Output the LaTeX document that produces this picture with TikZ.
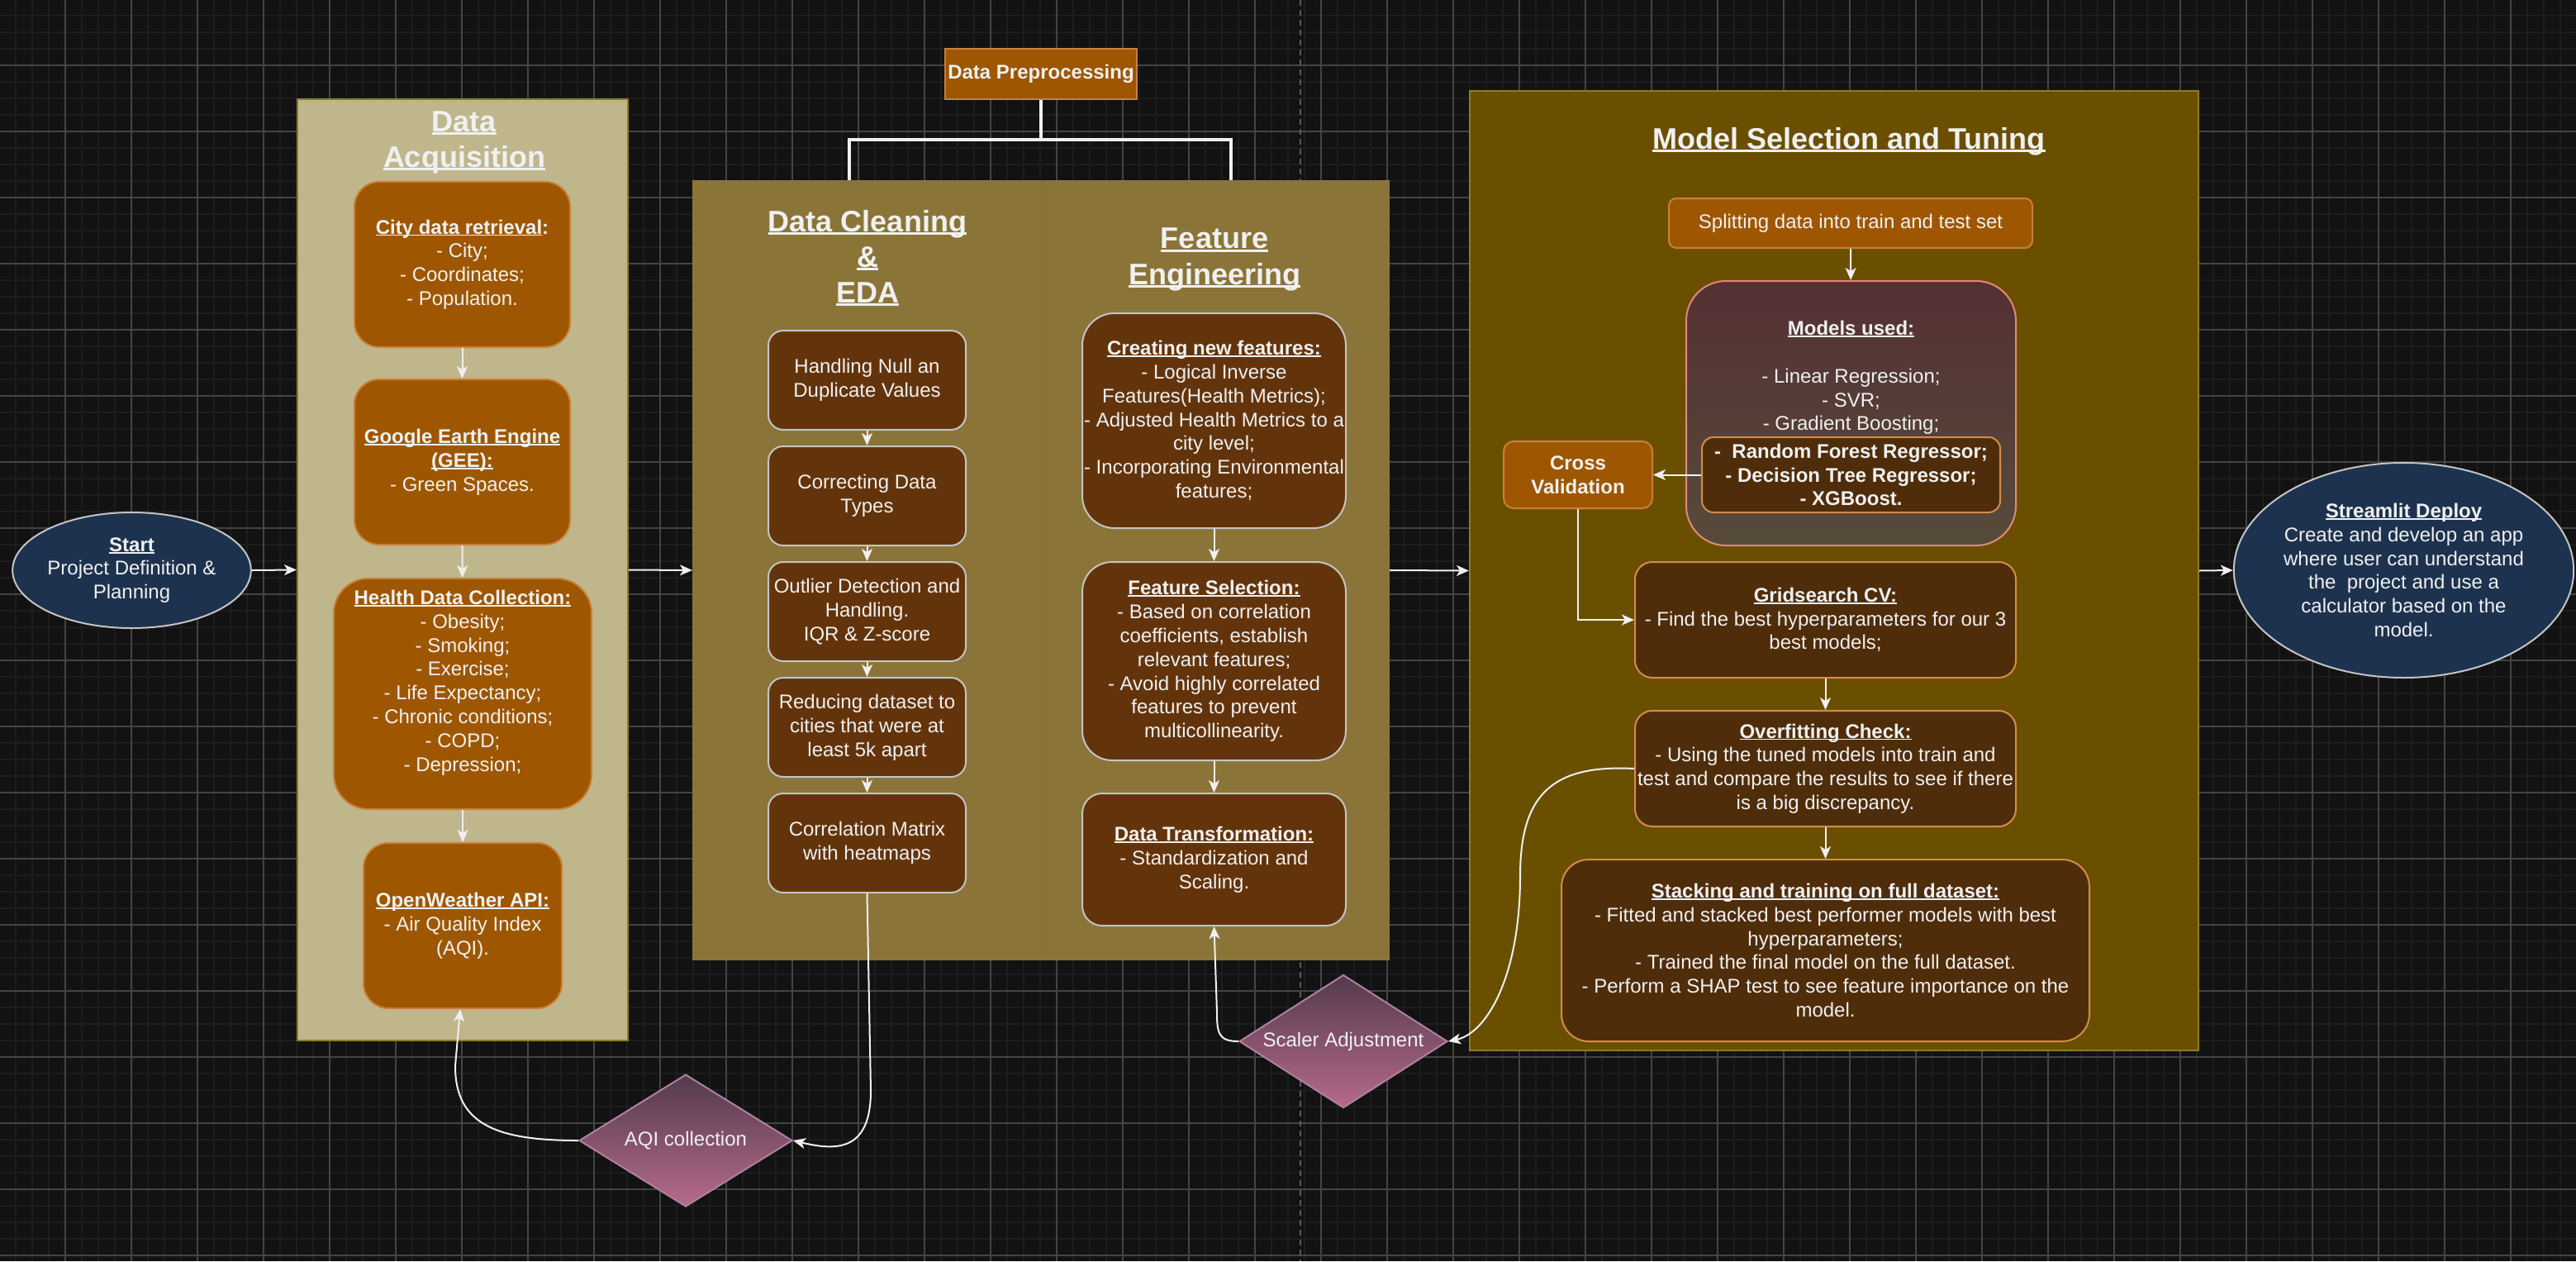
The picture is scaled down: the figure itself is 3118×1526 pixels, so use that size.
\documentclass[tikz,border=0pt]{standalone}
\usepackage{fontspec}
\setmainfont{Liberation Sans}
\usetikzlibrary{shapes.geometric,arrows.meta}
\definecolor{bgc}{HTML}{121212}
\definecolor{minorc}{HTML}{1D1D1D}
\definecolor{majorc}{HTML}{444444}
\definecolor{dashc}{HTML}{5A5A5A}
\definecolor{txtc}{HTML}{F0F0F0}
\definecolor{acqfill}{HTML}{BFB68C}
\definecolor{acqdraw}{HTML}{8F7B22}
\definecolor{cleanfill}{HTML}{8A7438}
\definecolor{cleandiv}{HTML}{826E30}
\definecolor{modfill}{HTML}{6A4F00}
\definecolor{moddraw}{HTML}{8F7B22}
\definecolor{orfill}{HTML}{9E5700}
\definecolor{ordraw}{HTML}{C98038}
\definecolor{brfill}{HTML}{63340C}
\definecolor{greyb}{HTML}{C4C4C4}
\definecolor{mbfill}{HTML}{4F2D0B}
\definecolor{mbdraw}{HTML}{D38C4C}
\definecolor{elfill}{HTML}{1D324E}
\definecolor{dtop}{HTML}{533A4D}
\definecolor{dbot}{HTML}{B66A8C}
\definecolor{ddraw}{HTML}{B080A0}
\definecolor{mtop}{HTML}{553033}
\definecolor{mbot}{HTML}{564B3B}
\definecolor{mdraw}{HTML}{E0887C}
\newsavebox\ulbox
\newcommand\uln[1]{\leavevmode\sbox\ulbox{#1}\rlap{\rule[-0.1em]{\wd\ulbox}{0.075em}}\usebox\ulbox}
\newcommand\bodyf{\fontsize{24}{28.8}\selectfont}
\newcommand\ttlf{\fontsize{36}{43.2}\selectfont\bfseries}
\tikzset{
  minorln/.style={draw=minorc, line width=1.6pt},
  majorln/.style={draw=majorc, line width=1.1pt},
  txt/.style={text=txtc, align=center, font=\bodyf, inner sep=0pt},
  ttl/.style={text=txtc, align=center, font=\ttlf, inner sep=0pt},
  container/.style={draw, line width=2pt, inner sep=0pt},
  basebox/.style={draw, line width=2pt, inner sep=0pt, text=txtc, align=center, font=\bodyf},
  obox/.style={basebox, fill=orfill, draw=ordraw},
  cbox/.style={basebox, fill=brfill, draw=greyb},
  mbox/.style={basebox, fill=mbfill, draw=mbdraw},
  ellbox/.style={basebox, ellipse, fill=elfill, draw=greyb},
  dia/.style={diamond, draw=ddraw, line width=2pt, top color=dtop, bottom color=dbot, inner sep=0pt},
  arr/.style={draw=txtc, line width=2pt, -{Stealth[length=15pt,width=13pt,inset=4pt]}},
  brk/.style={draw=txtc, line width=3.5pt},
}
\begin{document}
\begin{tikzpicture}[x=1pt,y=-1pt]
\useasboundingbox (0,0) rectangle (3118,1526);
\fill[bgc] (0,0) rectangle (3118,1526);
\foreach \i in {19,39,...,3118} \draw[minorln] (\i,0) -- (\i,1526);
\foreach \j in {19,39,...,1526} \draw[minorln] (0,\j) -- (3118,\j);
\foreach \i in {79,159,...,3118} \draw[majorln] (\i,0) -- (\i,1526);
\foreach \j in {79,159,...,1526} \draw[majorln] (0,\j) -- (3118,\j);
\draw[draw=dashc, line width=2pt, dash pattern=on 7pt off 5pt] (1574,0) -- (1574,1526);

% containers
\node[container, fill=acqfill, draw=acqdraw, minimum width=400pt, minimum height=1139pt] (acq) at (560,689.5) {};
\node[container, fill=cleanfill, draw=cleanfill, minimum width=842pt, minimum height=942pt] (clean) at (1260,690) {};
\draw[draw=cleandiv, line width=1pt] ([xshift=1pt]clean.north) -- ([xshift=1pt]clean.south);
\node[container, fill=modfill, draw=moddraw, minimum width=882pt, minimum height=1161pt] (model) at (2220,690.5) {};

% titles
\node[ttl] (acqttl) at (562,172) {\uln{Data}\\\uln{Acquisition}};
\node[ttl] (cleanttl) at (1050,312) {\uln{Data Cleaning}\\\uln{\&}\\\uln{EDA}};
\node[ttl] (featttl) at (1470,314) {\uln{Feature}\\\uln{Engineering}};
\node[ttl] (modttl) at (2238,171) {\uln{Model Selection and Tuning}};

% start / end
\node[ellbox, minimum width=281pt, minimum height=140pt] (start) at (159.5,690) {\textbf{\uln{Start}}\\Project Definition \&\\Planning};
\node[ellbox, minimum width=341pt, minimum height=260pt] (stream) at (2909.5,690) {\textbf{\uln{Streamlit Deploy}}\\Create and develop an app\\where user can understand\\the\ \ project and use a\\calculator based on the\\model.};

% data acquisition
\node[obox, minimum width=261pt, minimum height=200pt, rounded corners=30pt] (city) at (559.5,320) {\textbf{\uln{City data retrieval}:}\\- City;\\- Coordinates;\\- Population.};
\node[obox, minimum width=261pt, minimum height=200pt, rounded corners=30pt] (gee) at (559.5,559) {\textbf{\uln{Google Earth Engine}}\\\textbf{\uln{(GEE):}}\\- Green Spaces.};
\node[obox, minimum width=312pt, minimum height=279pt, rounded corners=42pt] (health) at (560,839.5) {};
\node[txt] (healthtxt) at (560,826) {\textbf{\uln{Health Data Collection:}}\\- Obesity;\\- Smoking;\\- Exercise;\\- Life Expectancy;\\- Chronic conditions;\\- COPD;\\- Depression;};
\node[obox, minimum width=240pt, minimum height=200pt, rounded corners=30pt] (ow) at (560,1120) {\textbf{\uln{OpenWeather API:}}\\- Air Quality Index\\(AQI).};

% preprocessing
\node[obox, minimum width=232pt, minimum height=61pt] (dp) at (1260,89.5) {\textbf{Data Preprocessing}};

% cleaning column
\node[cbox, minimum width=239pt, minimum height=120pt, rounded corners=18pt] (null) at (1049.5,460) {Handling Null an\\Duplicate Values};
\node[cbox, minimum width=239pt, minimum height=120pt, rounded corners=18pt] (types) at (1049.5,600) {Correcting Data\\Types};
\node[cbox, minimum width=239pt, minimum height=120pt, rounded corners=18pt] (outlier) at (1049.5,740) {Outlier Detection and\\Handling.\\IQR \& Z-score};
\node[cbox, minimum width=239pt, minimum height=120pt, rounded corners=18pt] (reduce) at (1049.5,880) {Reducing dataset to\\cities that were at\\least 5k apart};
\node[cbox, minimum width=239pt, minimum height=120pt, rounded corners=18pt] (corr) at (1049.5,1020) {Correlation Matrix\\with heatmaps};

% feature column
\node[cbox, minimum width=319pt, minimum height=260pt, rounded corners=39pt] (create) at (1469.5,509) {\textbf{\uln{Creating new features:}}\\- Logical Inverse\\Features(Health Metrics);\\- Adjusted Health Metrics to a\\city level;\\- Incorporating Environmental\\features;};
\node[cbox, minimum width=319pt, minimum height=240pt, rounded corners=36pt] (fsel) at (1469.5,800) {\textbf{\uln{Feature Selection:}}\\- Based on correlation\\coefficients, establish\\relevant features;\\- Avoid highly correlated\\features to prevent\\multicollinearity.};
\node[cbox, minimum width=319pt, minimum height=160pt, rounded corners=24pt] (dt) at (1469.5,1040) {\textbf{\uln{Data Transformation:}}\\- Standardization and\\Scaling.};

% diamonds
\node[dia, minimum width=258pt, minimum height=160pt] (aqi) at (830,1380) {};
\node[txt] (aqitxt) at (830,1380) {AQI collection};
\node[dia, minimum width=252pt, minimum height=161pt] (scaler) at (1626,1260) {};
\node[txt] (scalertxt) at (1626,1260) {Scaler Adjustment};

% model column
\node[obox, minimum width=440pt, minimum height=60pt, rounded corners=9pt] (split) at (2240,270) {Splitting data into train and test set};
\node[basebox, draw=mdraw, top color=mtop, bottom color=mbot, minimum width=399pt, minimum height=320pt, rounded corners=48pt] (models) at (2240.5,500) {};
\node[txt] (modelstxt) at (2240.5,457) {\textbf{\uln{Models used:}}\\\mbox{}\\- Linear Regression;\\- SVR;\\- Gradient Boosting;};
\node[mbox, minimum width=361pt, minimum height=91pt, rounded corners=14pt, font=\bodyf\bfseries] (inner) at (2240.5,574.5) {-\ \ Random Forest Regressor;\\- Decision Tree Regressor;\\- XGBoost.};
\node[obox, minimum width=180pt, minimum height=81pt, rounded corners=12pt, font=\bodyf\bfseries] (cv) at (1910,574.5) {Cross\\Validation};
\node[mbox, minimum width=461pt, minimum height=140pt, rounded corners=21pt] (gs) at (2209.5,750) {\textbf{\uln{Gridsearch CV:}}\\- Find the best hyperparameters for our 3\\best models;};
\node[mbox, minimum width=461pt, minimum height=140pt, rounded corners=21pt] (of) at (2209.5,930) {\textbf{\uln{Overfitting Check:}}\\- Using the tuned models into train and\\test and compare the results to see if there\\is a big discrepancy.};
\node[mbox, minimum width=639pt, minimum height=220pt, rounded corners=33pt] (stack) at (2209.5,1150) {\textbf{\uln{Stacking and training on full dataset:}}\\- Fitted and stacked best performer models with best\\hyperparameters;\\- Trained the final model on the full dataset.\\- Perform a SHAP test to see feature importance on the\\model.};

% connectors
\draw[arr] (start.east) -- (acq.west);
\draw[arr] (acq.east) -- (clean.west);
\draw[arr] (clean.east) -- (model.west);
\draw[arr] (model.east) -- (stream.west);

\draw[arr] (city) -- (gee);
\draw[arr] (gee) -- (health);
\draw[arr] (health) -- (ow);

\draw[brk] (dp.south) -- ++(0,48) -| ([xshift=-232pt]clean.north);
\draw[brk] (dp.south) ++(0,48) -| ([xshift=230pt]clean.north);

\draw[arr] (null) -- (types);
\draw[arr] (types) -- (outlier);
\draw[arr] (outlier) -- (reduce);
\draw[arr] (reduce) -- (corr);
\draw[arr] (create) -- (fsel);
\draw[arr] (fsel) -- (dt);

\draw[arr] (corr.south) -- (1054,1320) .. controls (1054,1395) and (1010,1392) .. (aqi.east);
\draw[arr] (aqi.west) .. controls (600,1380) and (551,1360) .. (551,1290) -- ([xshift=-3pt]ow.south);
\draw[arr] (scaler.west) .. controls (1475,1260) and (1473,1250) .. (1473,1225) -- (dt.south);
\draw[arr] (of.west) .. controls (1880,925) and (1840,960) .. (1840,1060) .. controls (1840,1180) and (1800,1250) .. (scaler.east);

\draw[arr] (split) -- (models);
\draw[arr] (inner.west) -- (cv.east);
\draw[arr] (cv.south) |- (gs.west);
\draw[arr] (gs) -- (of);
\draw[arr] (of) -- (stack);
\end{tikzpicture}
\end{document}
